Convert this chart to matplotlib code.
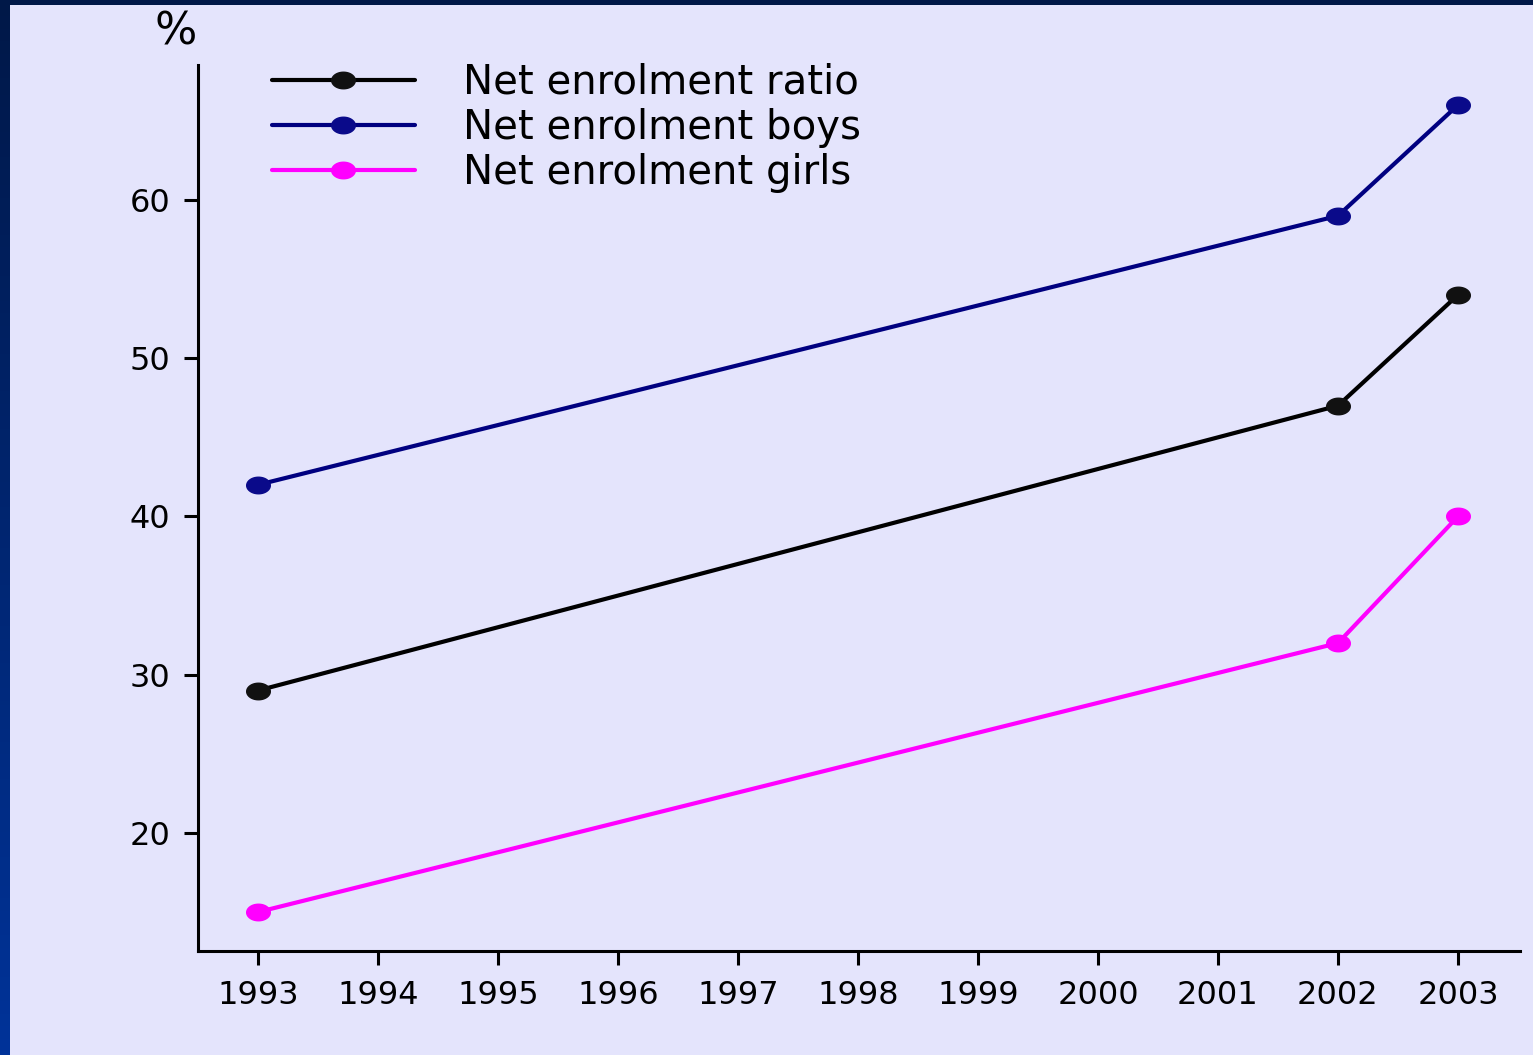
import numpy as np
import matplotlib
matplotlib.use("Agg")
import matplotlib.pyplot as plt
from matplotlib.path import Path
from matplotlib.patches import Rectangle
from matplotlib.colors import LinearSegmentedColormap

# ---- data ----
years = [1993, 2002, 2003]
ratio = [29, 47, 54]
boys = [42, 59, 66]
girls = [15, 32, 40]
labels = ["Net enrolment ratio", "Net enrolment boys", "Net enrolment girls"]
colors = ["#000000", "#000080", "#FF00FF"]
marker_colors = ["#111111", "#0A0A8A", "#FF00FF"]
xticks = list(range(1993, 2004))
yticks = [20, 30, 40, 50, 60]

plt.rcParams['font.family'] = ['DejaVu Sans']

W, H = 1533, 1055
fig = plt.figure(figsize=(W / 100, H / 100), dpi=100)
fig.patch.set_facecolor("#E4E4FC")

# decorative frame: top strip + left gradient strip
fig.patches.append(Rectangle((0, 1 - 5 / H), 1, 5 / H, transform=fig.transFigure,
                             facecolor="#001848", edgecolor="none", zorder=0))
gax = fig.add_axes([0, 0, 10 / W, 1])
grad = np.linspace(0, 1, 256).reshape(-1, 1)
cm = LinearSegmentedColormap.from_list("g", ["#001848", "#003399"])
gax.imshow(grad, aspect="auto", cmap=cm, origin="upper")
gax.axis("off")

ax = fig.add_axes([198 / W, (H - 951) / H, (1520 - 198) / W, (951 - 65) / H])
ax.set_facecolor("#E4E4FC")

# ellipse marker
t = np.linspace(0, 2 * np.pi, 60)
ell = Path(np.column_stack([np.cos(t), 0.7 * np.sin(t)]), closed=True)

for ys, lab, c, mc in zip([ratio, boys, girls], labels, colors, marker_colors):
    ax.plot(years, ys, color=c, lw=3, marker=ell, markersize=17,
            markerfacecolor=mc, markeredgecolor=mc, label=lab, solid_capstyle="round")

ax.set_xlim(1992.5, 2003.517)
ax.set_ylim(12.54, 68.53)
ax.set_xticks(xticks)
ax.set_yticks(yticks)
for s in ["top", "right"]:
    ax.spines[s].set_visible(False)
for s in ["left", "bottom"]:
    ax.spines[s].set_linewidth(2.2)
ax.tick_params(axis="both", direction="out", length=10, width=2.2, labelsize=23)
ax.tick_params(axis="x", pad=11)
ax.tick_params(axis="y", pad=10)

leg = ax.legend(loc="upper left", bbox_to_anchor=(272 / W, 1 - 63 / H),
                bbox_transform=fig.transFigure, frameon=False, fontsize=29,
                handlelength=3.55, handletextpad=1.19, labelspacing=0.13,
                borderpad=0, borderaxespad=0)

fig.text(176 / W, 1 - 32 / H, "%", fontsize=32, ha="center", va="center")

fig.savefig("out.png", dpi=100, facecolor=fig.get_facecolor())
